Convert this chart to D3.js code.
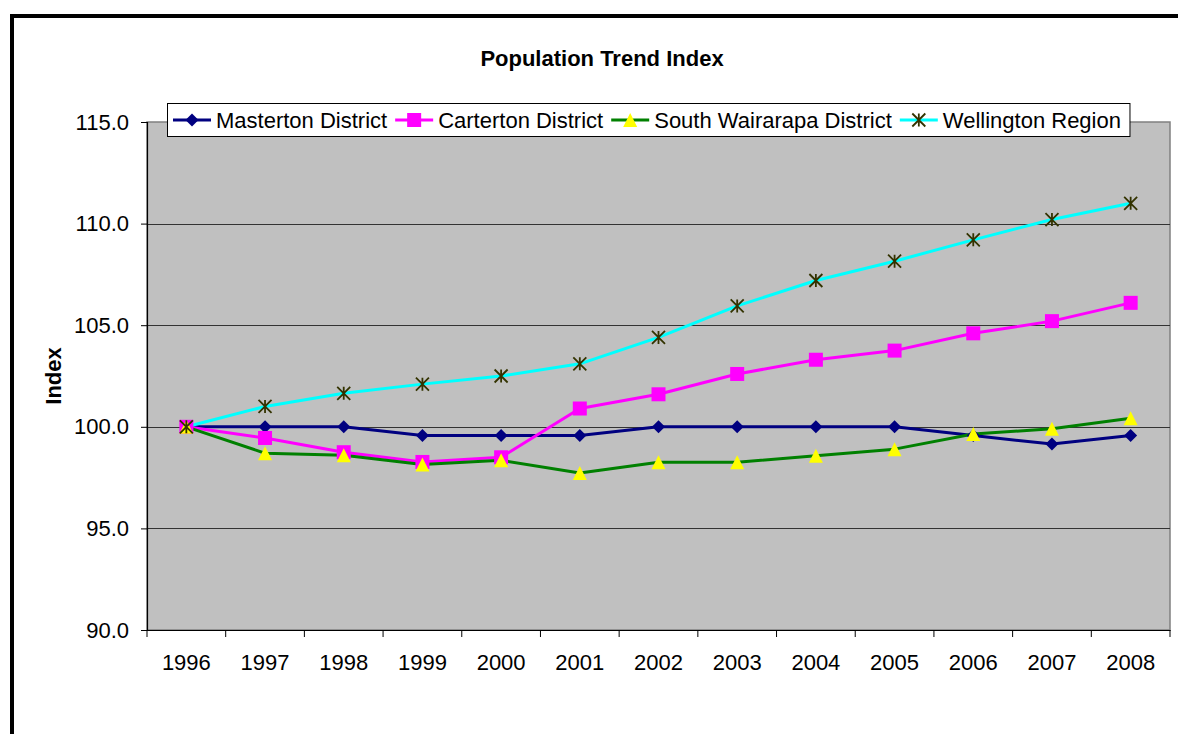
<!DOCTYPE html>
<html><head><meta charset="utf-8">
<script src="https://cdn.jsdelivr.net/npm/d3@7"></script>
<style>
html,body{margin:0;padding:0;background:#fff;}
svg{display:block;font-family:"Liberation Sans",Arial,sans-serif;}
</style></head><body>
<svg id="c" width="1178" height="734"></svg>
<script>
const years = ["1996","1997","1998","1999","2000","2001","2002","2003","2004","2005","2006","2007","2008"];
const masterton = [100.0,100.0,100.0,99.57,99.57,99.57,100.0,100.0,100.0,100.0,99.57,99.15,99.57];
const carterton = [100.0,99.45,98.75,98.27,98.5,100.9,101.6,102.6,103.3,103.75,104.6,105.2,106.1];
const southWairarapa = [100.0,98.7,98.6,98.15,98.35,97.73,98.25,98.25,98.58,98.9,99.65,99.9,100.42];
const wellington = [100.0,101.0,101.65,102.1,102.5,103.1,104.4,105.95,107.2,108.15,109.2,110.2,111.0];
const seriesNames = ["Masterton District","Carterton District","South Wairarapa District","Wellington Region"];
const yTicks = [90,95,100,105,110,115];
const chartTitle = "Population Trend Index";
const yTitle = "Index";

const series = [
  {name: seriesNames[0], values: masterton, color: "#000080", marker: "diamond", mfill: "#000080"},
  {name: seriesNames[1], values: carterton, color: "#FF00FF", marker: "square", mfill: "#FF00FF"},
  {name: seriesNames[2], values: southWairarapa, color: "#008000", marker: "triangle", mfill: "#FFFF00"},
  {name: seriesNames[3], values: wellington, color: "#00FFFF", marker: "star", mfill: "#333300"}
];

const FS = 22;
const svg = d3.select("#c");
// outer frame
svg.append("path").attr("d","M12,734 L12,16 L1178,16").attr("fill","none").attr("stroke","#000").attr("stroke-width",4);

const L = 147, R = 1170, T = 122, B = 630;
const x = d3.scaleBand().domain(years).range([L, R]);
const y = d3.scaleLinear().domain([90,115]).range([B, T]);

svg.append("rect").attr("x",L).attr("y",T).attr("width",R-L).attr("height",B-T)
  .attr("fill","#C0C0C0").attr("stroke","#808080").attr("stroke-width",1.5);

// gridlines
svg.append("g").selectAll("line").data(yTicks.filter(d=>d>90 && d<115)).join("line")
  .attr("x1",L).attr("x2",R).attr("y1",d=>Math.round(y(d))+0.5).attr("y2",d=>Math.round(y(d))+0.5)
  .attr("stroke","#333").attr("stroke-width",1);

// y axis
const yAxis = d3.axisLeft(y).tickValues(yTicks).tickFormat(d3.format(".1f")).tickSize(6).tickPadding(12);
const gy = svg.append("g").attr("transform",`translate(${L},0)`).call(yAxis);
gy.select(".domain").attr("stroke","#000").attr("stroke-width",1.2);
gy.selectAll(".tick line").attr("stroke","#000");
gy.selectAll("text").attr("font-size",FS).attr("fill","#000").attr("font-family","Liberation Sans, Arial, sans-serif");

// x axis
const xAxis = d3.axisBottom(x).tickSize(0).tickPadding(24);
const gx = svg.append("g").attr("transform",`translate(0,${B})`).call(xAxis);
gx.select(".domain").attr("stroke","#000").attr("stroke-width",1.2);
gx.selectAll("text").attr("font-size",FS).attr("fill","#000").attr("font-family","Liberation Sans, Arial, sans-serif");
// category boundary ticks
const bounds = years.map(d=>x(d)).concat([R]);
gx.append("g").selectAll("line").data(bounds).join("line")
  .attr("x1",d=>d).attr("x2",d=>d).attr("y1",0).attr("y2",7).attr("stroke","#000").attr("stroke-width",1);

// title
svg.append("text").attr("x",602).attr("y",66).attr("text-anchor","middle")
  .attr("font-size",FS).attr("font-weight","bold").text(chartTitle);
svg.append("text").attr("transform",`translate(61,${(T+B)/2}) rotate(-90)`).attr("text-anchor","middle")
  .attr("font-size",FS).attr("font-weight","bold").text(yTitle);

function drawMarker(g, type, fill, size) {
  const s = size/2;
  if (type === "diamond") {
    g.append("path").attr("d",`M0,${-s} L${s},0 L0,${s} L${-s},0 Z`).attr("fill",fill);
  } else if (type === "square") {
    g.append("rect").attr("x",-s).attr("y",-s).attr("width",size).attr("height",size).attr("fill",fill);
  } else if (type === "triangle") {
    g.append("path").attr("d",`M0,${-s} L${s},${s} L${-s},${s} Z`).attr("fill",fill);
  } else if (type === "star") {
    g.append("path").attr("d",`M${-s},${-s} L${s},${s} M${s},${-s} L${-s},${s} M0,${-s} L0,${s}`)
      .attr("stroke",fill).attr("stroke-width",1.8).attr("fill","none");
  }
}

const line = d3.line().x((d,i)=>x(years[i])+x.bandwidth()/2).y(d=>y(d));
const sizes = {diamond:13, square:14, triangle:14, star:13};
series.forEach(s=>{
  svg.append("path").datum(s.values).attr("d",line).attr("fill","none")
    .attr("stroke",s.color).attr("stroke-width",3).attr("stroke-linejoin","round");
});
series.forEach(s=>{
  s.values.forEach((v,i)=>{
    const g = svg.append("g").attr("transform",`translate(${x(years[i])+x.bandwidth()/2},${y(v)})`);
    drawMarker(g, s.marker, s.mfill, sizes[s.marker]);
  });
});

// legend
const lg = svg.append("g");
const box = lg.append("rect").attr("x",167.5).attr("y",103.5).attr("height",33).attr("fill","#fff")
  .attr("stroke","#000").attr("stroke-width",1);
let cx = 173;
series.forEach(s=>{
  lg.append("line").attr("x1",cx).attr("x2",cx+38).attr("y1",120).attr("y2",120)
    .attr("stroke",s.color).attr("stroke-width",3);
  const g = lg.append("g").attr("transform",`translate(${cx+19},120)`);
  drawMarker(g, s.marker, s.mfill, sizes[s.marker]);
  const t = lg.append("text").attr("x",cx+43).attr("y",128).attr("font-size",FS).text(s.name);
  cx = cx + 43 + t.node().getComputedTextLength() + 8;
});
box.attr("width", cx - 167.5 + 1);
</script>
</body></html>
